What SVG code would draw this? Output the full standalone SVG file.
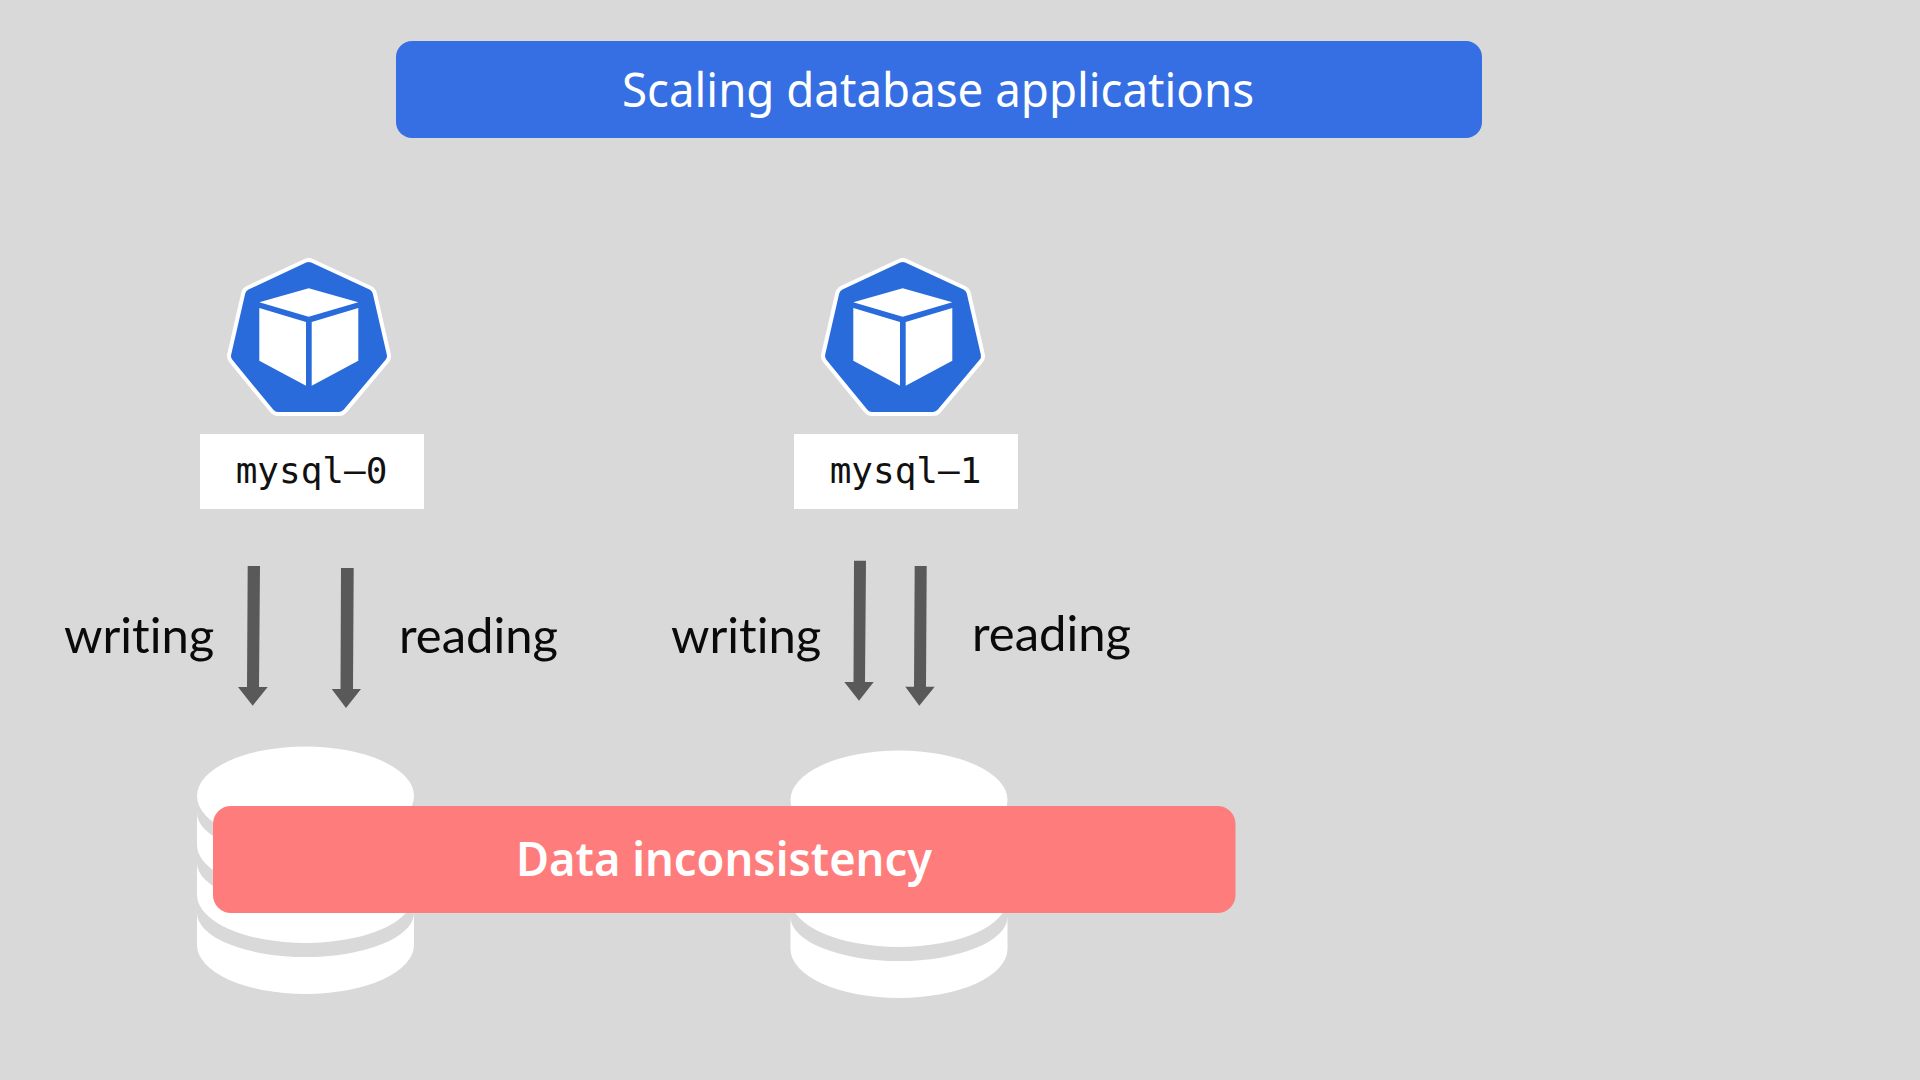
<svg xmlns="http://www.w3.org/2000/svg" width="1920" height="1080" viewBox="0 0 1920 1080">
<style>
.lbl{font-family:"Lato","Liberation Sans",sans-serif;font-size:49px;fill:#0a0a0a;font-variant-ligatures:none}
.mono{font-family:"DejaVu Sans Mono","Liberation Mono",monospace;font-size:36px;fill:#111;text-anchor:middle}
.ban{font-family:"Noto Sans","Liberation Sans",sans-serif;fill:#fff;text-anchor:middle}
.db{fill:#fff}
.arr{fill:#595959}
</style>
<defs>
<path id="hept" d="M308.700 268L367 295L381 356L339 406H278L237 356L251 295Z"/>
<g id="pod">
<use href="#hept" fill="#fff" stroke="#fff" stroke-width="20" stroke-linejoin="round"/>
<use href="#hept" fill="#2a6bdc" stroke="#2a6bdc" stroke-width="12" stroke-linejoin="round"/>
<path d="M308.700 288.300L358.300 302.300L308.700 316.700L259.300 302.300Z M259.300 308L306 322V385.700L259.300 360.700Z M311.700 322L358.300 308V360.700L311.700 385.700Z" fill="#fff"/>
</g>
<g id="cyl">
<path class="db" d="M197 913V945A108.500 49 0 0 0 414 945V913A108.500 44 0 0 1 197 913Z"/>
<path class="db" d="M197 863V895A108.500 48 0 0 0 414 895V863A108.500 44 0 0 1 197 863Z"/>
<path class="db" d="M197 813V845A108.500 48 0 0 0 414 845V813A108.500 44 0 0 1 197 813Z"/>
<ellipse class="db" cx="305.500" cy="796" rx="108.500" ry="49.500"/>
</g>
</defs>
<rect width="1920" height="1080" fill="#d9d9d9"/>
<g id="title"><rect x="396" y="41" width="1086" height="97" rx="16" fill="#356fe3"/><text class="ban" x="938" y="107" font-size="47" textLength="632" lengthAdjust="spacingAndGlyphs">Scaling database applications</text></g>
<g id="pod-mysql-0"><use href="#pod"/><rect x="200" y="434" width="224" height="75" fill="#fff"/><text class="mono" x="311.500" y="483">mysql–0</text></g>
<g id="pod-mysql-1"><use href="#pod" x="594"/><rect x="794" y="434" width="224" height="75" fill="#fff"/><text class="mono" x="905.500" y="483">mysql–1</text></g>
<g id="db-0"><use href="#cyl"/></g>
<g id="db-1"><use href="#cyl" x="593.500" y="4"/></g>
<g id="connectors">
<path class="arr" d="M247.700 566H260L259 687H267.700L252.700 705.700L238 687H247Z"/>
<path class="arr" d="M341 568H353.700L353 689H361L346 708L331.700 689H340.500Z"/>
<path class="arr" d="M854 560.700H866L865 682H873.700L859 700.700L844.300 682H853.500Z"/>
<path class="arr" d="M914.700 566H926.700L926 686.700H934.700L919.300 705.700L905.300 686.700H914Z"/>
</g>
<g id="labels">
<text class="lbl" x="64" y="653">writing</text>
<text class="lbl" x="399" y="653">reading</text>
<text class="lbl" x="671" y="653">writing</text>
<text class="lbl" x="972" y="651">reading</text>
</g>
<g id="inconsistency"><rect x="213" y="806" width="1022.500" height="107" rx="18" fill="#ff7c7c"/><text class="ban" x="724" y="876" font-size="46" font-weight="600" textLength="416" lengthAdjust="spacingAndGlyphs">Data inconsistency</text></g>
</svg>
